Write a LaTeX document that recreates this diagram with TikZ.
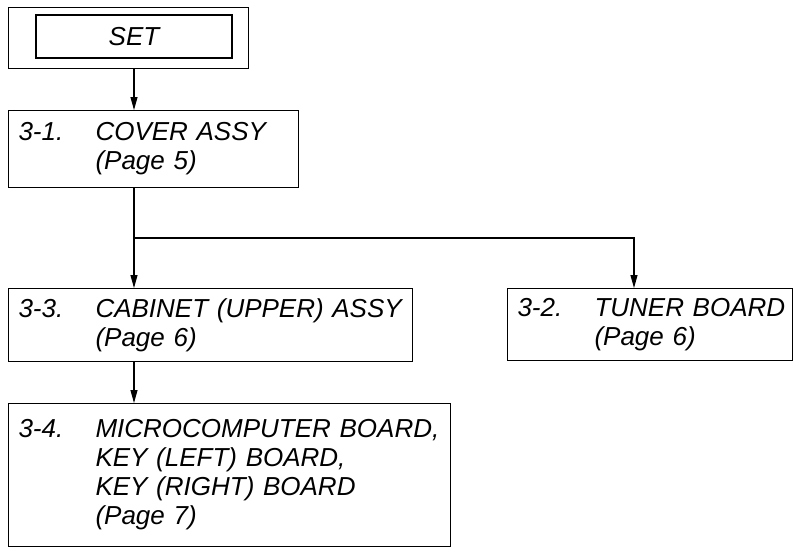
\documentclass[tikz,border=0pt]{standalone}
\usepackage{fontspec}
\setmainfont{Liberation Sans}
\usepackage{tikz}
\usetikzlibrary{positioning}
\usetikzlibrary{arrows.meta}

\newcommand{\stepno}[2]{\mbox{\makebox[57.75pt][l]{#1}#2}}
\newcommand{\stepgap}{\hspace*{57.75pt}}

\begin{document}
\begin{tikzpicture}[x=0.75pt, y=0.75pt,
                          font=\fontsize{19.5}{21.75}\selectfont\itshape,
                          setbox/.style={rectangle, draw, line width=0.8pt, inner sep=0pt},
                          partbox/.style={rectangle, draw, line width=0.8pt, anchor=north west, align=left, inner xsep=7.5pt, inner ysep=0pt},
                          arr/.style={-{Triangle[length=9.75pt, width=5.25pt]}, line width=0.8pt},
                          line/.style={line width=0.8pt},
                      ]
                      \useasboundingbox (0,0) rectangle (800,-547);
                      %Nodes
                      \node[setbox, anchor=north west, minimum width=180pt, minimum height=45.75pt] (set) at (8,-7) {};
                      \node[setbox, minimum width=147pt, minimum height=32.25pt]  (setin)   at (134,-36.5)  {SET};
                      \node[partbox, text width=202.5pt, minimum height=57.75pt]  (b31)     at (8,-110)
                          {\stepno{3-1.}{COVER ASSY}\\ \stepgap(Page 5)};
                      \node[partbox, text width=288pt, minimum height=54.75pt]    (b33)     at (8,-288)
                          {\stepno{3-3.}{CABINET (UPPER) ASSY}\\ \stepgap(Page 6)};
                      \node[partbox, text width=198.75pt, minimum height=54pt]    (b32)     at (507,-288)
                          {\stepno{3-2.}{TUNER BOARD}\\ \stepgap(Page 6)};
                      \node[partbox, text width=316.5pt, minimum height=107.25pt] (b34)     at (8,-403)
                          {\stepno{3-4.}{MICROCOMPUTER BOARD,}\\ \stepgap KEY (LEFT) BOARD,\\ \stepgap KEY (RIGHT) BOARD\\ \stepgap(Page 7)};
                      \coordinate (fork) at (134,-238);
                      \coordinate (t32)  at (634,-238);

                      %Lines
                      \draw[arr] (setin |- set.south) -- (setin |- b31.north);
                      \draw[line] (setin |- b31.south) -- (fork);
                      \draw[arr] (fork) -- (setin |- b33.north);
                      \draw[arr] (fork) -- (t32) -- (t32 |- b32.north);
                      \draw[arr] (setin |- b33.south) -- (setin |- b34.north);
                  \end{tikzpicture}
\end{document}
